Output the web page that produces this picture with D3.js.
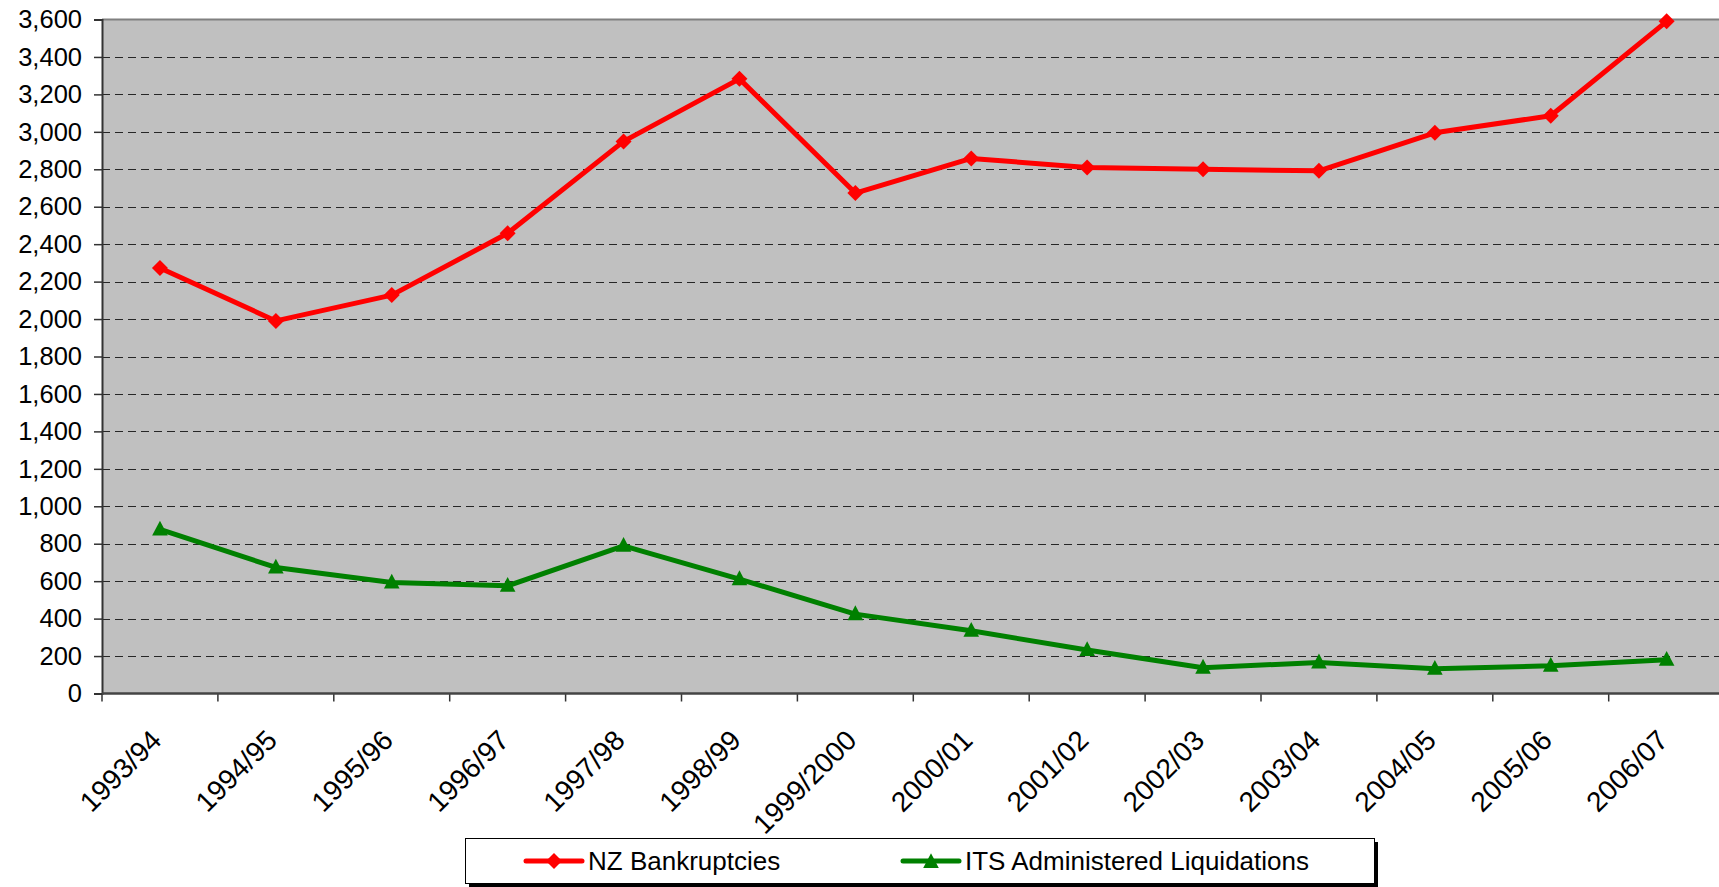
<!DOCTYPE html>
<html>
<head>
<meta charset="utf-8">
<script src="https://cdn.jsdelivr.net/npm/d3@7/dist/d3.min.js"></script>
<style>
  html, body { margin: 0; padding: 0; background: #ffffff; overflow: hidden; }
  svg { display: block; font-family: "Liberation Sans", Arial, sans-serif; }
</style>
</head>
<body>
<svg id="chart" width="1719" height="887"></svg>
<script>
const categories = ["1993/94","1994/95","1995/96","1996/97","1997/98","1998/99","1999/2000","2000/01","2001/02","2002/03","2003/04","2004/05","2005/06","2006/07"];
const bankruptcies = [2273, 1990, 2128, 2458, 2949, 3283, 2673, 2858, 2810, 2800, 2792, 2995, 3086, 3590];
const liquidations = [876, 673, 593, 575, 789, 611, 424, 335, 232, 138, 166, 132, 148, 180];
const yTicks = [0,200,400,600,800,1000,1200,1400,1600,1800,2000,2200,2400,2600,2800,3000,3200,3400,3600];
const seriesNames = ["NZ Bankruptcies", "ITS Administered Liquidations"];

const svg = d3.select("#chart");
const plotLeft = 102, plotTop = 19.5, plotBottom = 693.5, bandW = 115.9;
const plotRight = plotLeft + bandW * categories.length;

const x = d3.scaleBand().domain(categories).range([plotLeft, plotRight]).padding(0);
const y = d3.scaleLinear().domain([0, 3600]).range([plotBottom, plotTop]);

// plot background
svg.append("rect").attr("x", plotLeft).attr("y", plotTop).attr("width", plotRight - plotLeft).attr("height", plotBottom - plotTop)
  .attr("fill", "#c0c0c0");

// gridlines
svg.append("g").selectAll("line").data(yTicks.filter(d => d > 0 && d < 3600)).join("line")
  .attr("x1", plotLeft).attr("x2", plotRight)
  .attr("y1", d => Math.round(y(d)) + 0.5).attr("y2", d => Math.round(y(d)) + 0.5)
  .attr("stroke", "#000").attr("stroke-width", 1).attr("stroke-dasharray", "8,5").attr("opacity", 0.8);

// top border
svg.append("line").attr("x1", plotLeft).attr("x2", plotRight).attr("y1", plotTop).attr("y2", plotTop)
  .attr("stroke", "#808080").attr("stroke-width", 2);

// y axis
const yAxis = d3.axisLeft(y).tickValues(yTicks).tickSize(8).tickPadding(12)
  .tickFormat(d3.format(","));
const gy = svg.append("g").attr("transform", `translate(${plotLeft},0)`).call(yAxis);
gy.select(".domain").attr("stroke", "#333").attr("stroke-width", 2);
gy.selectAll(".tick line").attr("stroke", "#333").attr("stroke-width", 1.5);
gy.selectAll(".tick text").attr("font-size", 25.5).attr("fill", "#000")
  .attr("font-family", "Liberation Sans, Arial, sans-serif");

// x axis ticks at category boundaries
const boundaries = categories.map(c => x(c));
svg.append("g").selectAll("line").data(boundaries).join("line")
  .attr("x1", d => d).attr("x2", d => d).attr("y1", plotBottom).attr("y2", plotBottom + 8)
  .attr("stroke", "#333").attr("stroke-width", 1.5);
svg.append("line").attr("x1", plotLeft).attr("x2", plotRight).attr("y1", plotBottom).attr("y2", plotBottom)
  .attr("stroke", "#444").attr("stroke-width", 2.5);

// x labels
svg.append("g").selectAll("text").data(categories).join("text")
  .attr("transform", d => `translate(${x(d) + x.bandwidth() / 2 + 3},${742}) rotate(-45)`)
  .attr("text-anchor", "end")
  .attr("font-size", 28).attr("fill", "#000")
  .text(d => d);

const cx = d => x(d) + x.bandwidth() / 2;

// lines
const line = d3.line().x(d => cx(d.c)).y(d => y(d.v));
const redData = categories.map((c, i) => ({ c, v: bankruptcies[i] }));
const greenData = categories.map((c, i) => ({ c, v: liquidations[i] }));

svg.append("path").datum(redData).attr("d", line).attr("fill", "none")
  .attr("stroke", "#ff0000").attr("stroke-width", 5).attr("stroke-linejoin", "round");
svg.append("path").datum(greenData).attr("d", line).attr("fill", "none")
  .attr("stroke", "#008000").attr("stroke-width", 5).attr("stroke-linejoin", "round");

const diamondPath = (s) => `M0,${-s}L${s},0L0,${s}L${-s},0Z`;
const trianglePath = (s) => `M0,${-s}L${s},${s*0.9}L${-s},${s*0.9}Z`;

svg.append("g").selectAll("path").data(redData).join("path")
  .attr("transform", d => `translate(${cx(d.c)},${y(d.v)})`)
  .attr("d", diamondPath(8)).attr("fill", "#ff0000");
svg.append("g").selectAll("path").data(greenData).join("path")
  .attr("transform", d => `translate(${cx(d.c)},${y(d.v) - 1})`)
  .attr("d", trianglePath(7.8)).attr("fill", "#008000");

// legend
const lg = svg.append("g");
lg.append("rect").attr("x", 469).attr("y", 842).attr("width", 909).attr("height", 45).attr("fill", "#000");
lg.append("rect").attr("x", 465.5).attr("y", 838.5).attr("width", 909).attr("height", 45)
  .attr("fill", "#fff").attr("stroke", "#000").attr("stroke-width", 1);

const legendItems = [
  { name: seriesNames[0], color: "#ff0000", x0: 526, shape: diamondPath(8) },
  { name: seriesNames[1], color: "#008000", x0: 903, shape: trianglePath(7.8) }
];
legendItems.forEach(it => {
  lg.append("line").attr("x1", it.x0).attr("x2", it.x0 + 56).attr("y1", 861).attr("y2", 861)
    .attr("stroke", it.color).attr("stroke-width", 5).attr("stroke-linecap", "round");
  lg.append("path").attr("transform", `translate(${it.x0 + 28},861)`).attr("d", it.shape).attr("fill", it.color);
  lg.append("text").attr("x", it.x0 + 62).attr("y", 870).attr("font-size", 26).attr("fill", "#000").text(it.name);
});
</script>
</body>
</html>
